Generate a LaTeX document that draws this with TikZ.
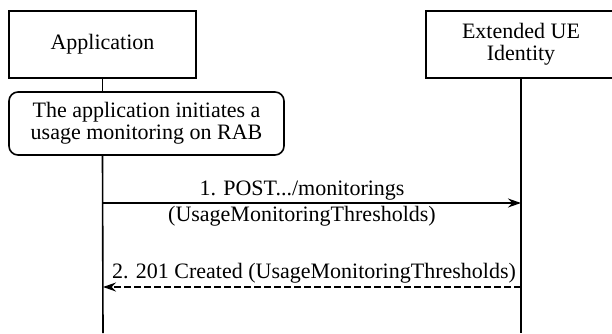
\documentclass[tikz,border=0pt]{standalone}
\usepackage{fontspec}
\setmainfont{Liberation Serif}
\usetikzlibrary{arrows.meta}
\begin{document}
\begin{tikzpicture}[x=1pt,y=1pt,
  font=\fontsize{22}{26}\selectfont,
  actor/.style={draw,line width=1.6pt,minimum height=67pt,align=center,inner sep=0pt},
  note/.style={draw,line width=1.6pt,rounded corners=9pt,align=center,inner sep=0pt},
  life/.style={line width=1.6pt},
  msg/.style={line width=1.3pt,-{Stealth[length=13pt,width=9pt]}},
  lbl/.style={align=center,inner sep=0pt}]
\useasboundingbox (0,0) rectangle (612,333);
\node[actor,minimum width=187pt] (app) at (102.5,288.5) {Application};
\node[actor,minimum width=190pt] (ext) at (521,288.5) {Extended UE\\[-4pt]Identity};
\node[note,minimum width=275pt,minimum height=63pt] (note) at (146.5,209.5) {The application initiates a\\[-4pt]usage monitoring on RAB};
\coordinate (append) at (103,0);
\coordinate (extend) at (ext.south |- 0,0);
\draw[life] (app.south) -- (note.north -| app.south);
\draw[life] (note.south -| app.south) -- (append);
\draw[life] (ext.south) -- (extend);
\coordinate (a1s) at (103,130);
\coordinate (a1e) at (ext.south |- 0,130);
\draw[msg] (a1s) -- (a1e);
\node[lbl,anchor=south] (l1) at (302,133) {1. POST.../monitorings};
\node[lbl,anchor=north] (l1b) at (302,127) {(UsageMonitoringThresholds)};
\coordinate (a2s) at (ext.south |- 0,46);
\coordinate (a2e) at (103,46);
\draw[msg,dashed,dash pattern=on 7pt off 3pt] (a2s) -- (a2e);
\node[lbl,anchor=base] (l2) at (314,55) {2. 201 Created (UsageMonitoringThresholds)};
\end{tikzpicture}
\end{document}
